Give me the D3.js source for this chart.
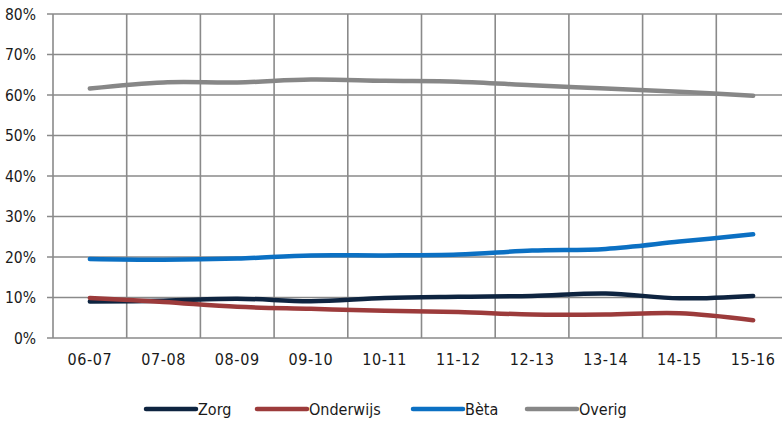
<!DOCTYPE html>
<html><head><meta charset="utf-8">
<script src="https://cdn.jsdelivr.net/npm/d3@7"></script>
<style>
html,body{margin:0;padding:0;background:#fff;}
svg{display:block;}
text{font-family:"DejaVu Sans Condensed","DejaVu Sans",sans-serif;fill:#1a1a1a;}
</style></head>
<body>
<svg id="chart" width="782" height="421"></svg>
<script>
const categories = ["06-07","07-08","08-09","09-10","10-11","11-12","12-13","13-14","14-15","15-16"];
const zorg      = [9.0, 9.2, 9.7, 9.1, 9.9, 10.2, 10.4, 11.0, 9.8, 10.4];
const onderwijs = [9.9, 8.9, 7.7, 7.2, 6.7, 6.4, 5.8, 5.8, 6.1, 4.4];
const beta      = [19.5, 19.3, 19.6, 20.4, 20.4, 20.6, 21.6, 22.0, 23.8, 25.6];
const overig    = [61.6, 63.1, 63.1, 63.8, 63.5, 63.3, 62.4, 61.6, 60.8, 59.8];
const seriesNames = ["Zorg","Onderwijs","Bèta","Overig"];
const yTicks = [0,10,20,30,40,50,60,70,80];

(function(){
const colors = ["#0e2440","#9c3b3b","#0b70c3","#878787"];
const seriesData = [zorg, onderwijs, beta, overig];

const svg = d3.select("#chart");
const pLeft = 53, pRight = 790, pTop = 14, pBottom = 338;

const x = d3.scaleBand().domain(categories).range([pLeft, pRight]);
const y = d3.scaleLinear().domain([0, 80]).range([pBottom, pTop]);

const grid = svg.append("g");
grid.selectAll("line.h").data(yTicks).join("line")
  .attr("x1", pLeft - 6).attr("x2", 782)
  .attr("y1", d => y(d)).attr("y2", d => y(d))
  .attr("stroke", "#8a8a8a").attr("stroke-width", 1.6);
const bounds = categories.map(c => x(c));
grid.selectAll("line.v").data(bounds).join("line")
  .attr("x1", d => d).attr("x2", d => d)
  .attr("y1", pTop).attr("y2", pBottom)
  .attr("stroke", "#8a8a8a").attr("stroke-width", 1.6);

svg.append("g").selectAll("text").data(yTicks).join("text")
  .attr("x", 36).attr("y", d => y(d)).attr("dy", "0.36em")
  .attr("text-anchor", "end").attr("font-size", 15.5)
  .text(d => d + "%");

svg.append("g").selectAll("text").data(categories).join("text")
  .attr("x", d => x(d) + x.bandwidth()/2).attr("y", 359).attr("dy", "0.36em")
  .attr("text-anchor", "middle").attr("font-size", 16).attr("letter-spacing", 0.6)
  .text(d => d);

const line = d3.line()
  .x((d, i) => x(categories[i]) + x.bandwidth()/2)
  .y(d => y(d))
  .curve(d3.curveCatmullRom.alpha(0.5));

svg.append("g").selectAll("path").data(seriesData).join("path")
  .attr("d", d => line(d))
  .attr("fill", "none")
  .attr("stroke", (d, i) => colors[i])
  .attr("stroke-width", 4.5)
  .attr("stroke-linecap", "round")
  .attr("stroke-linejoin", "round");

const legendX = [146, 257, 413, 527];
const lg = svg.append("g").selectAll("g").data(seriesNames).join("g")
  .attr("transform", (d, i) => `translate(${legendX[i]},409)`);
lg.append("line").attr("x1", 0).attr("x2", 50).attr("y1", 0).attr("y2", 0)
  .attr("stroke", (d, i) => colors[i]).attr("stroke-width", 4.5).attr("stroke-linecap", "round");
lg.append("text").attr("x", 52).attr("y", 0).attr("dy", "0.36em")
  .attr("font-size", 16).text(d => d);
})();
</script>
</body></html>
